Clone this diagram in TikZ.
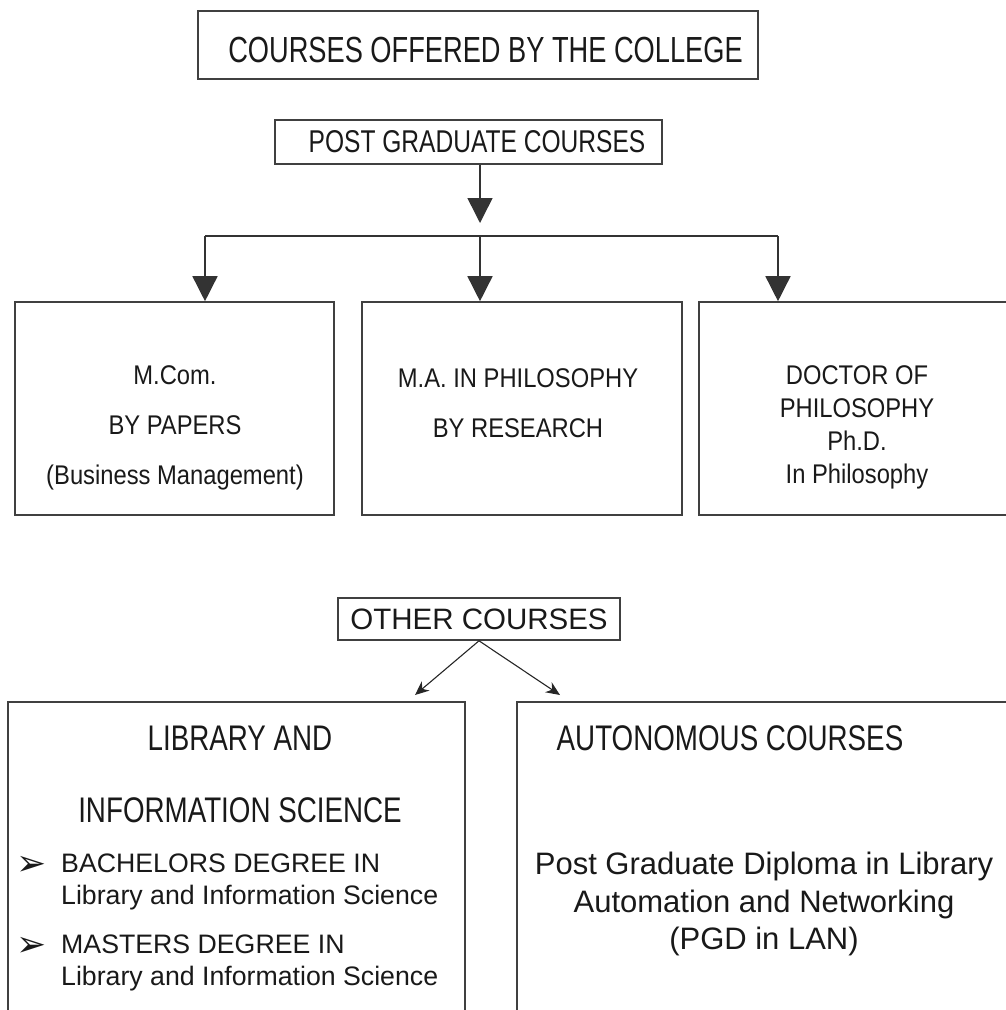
\documentclass[tikz,border=0pt]{standalone}
\usepackage{fontspec}
\setmainfont{Liberation Sans}
\newfontfamily\titlefont[FakeStretch=0.75]{Liberation Sans}
\newfontfamily\narrowfont[FakeStretch=0.78]{Liberation Sans}
\newfontfamily\rowfont[FakeStretch=0.88]{Liberation Sans}
\newfontfamily\bulletfont{DejaVu Sans}
\usetikzlibrary{arrows.meta}

\begin{document}
\begin{tikzpicture}[x=1pt,y=-1pt,
    box/.style={draw=black!75, line width=1.6pt, inner sep=0pt},
    stem/.style={draw=black!80, line width=1.5pt},
    bigarrow/.style={stem, -{Triangle[length=25pt,width=25pt]}},
    smallarrow/.style={draw=black!85, line width=1.1pt, -{Stealth[length=14pt,width=12pt]}},
    rowtext/.style={align=center, text=black!90, font=\rowfont\fontsize{27}{50}\selectfont},
    headtext/.style={align=center, text=black!90, font=\narrowfont\fontsize{35.6}{72}\selectfont},
    itemtext/.style={align=left, inner sep=0pt, text=black!90, font=\fontsize{26.7}{32}\selectfont},
    bullet/.style={inner sep=0pt, text=black!90, font=\bulletfont\fontsize{36}{36}\selectfont}]

    % page size
    \useasboundingbox (0,0) rectangle (1005,1010);

    % title and post graduate box
    \node[box, line width=2pt, minimum width=560pt, minimum height=68pt, text height=35pt,
          text=black!90, font=\titlefont\fontsize{36.3}{40}\selectfont]
          (title) at (478,45) {\hspace*{15pt}COURSES OFFERED BY THE COLLEGE};
    \node[box, minimum width=387pt, minimum height=44pt,
          text=black!90, font=\narrowfont\fontsize{31.5}{36}\selectfont]
          (pg) at (468.5,142) {\hspace*{17pt}POST GRADUATE COURSES};

    % the fork
    \coordinate (fork) at (480,236);
    \coordinate (forkL) at (205,236);
    \coordinate (forkR) at (778,236);
    \draw[bigarrow, shorten >=13pt] (pg.south -| fork) -- (fork);
    \draw[stem] (forkL) -- (forkR);

    % post graduate courses
    \node[box, minimum width=319pt, minimum height=213pt] (mcom) at (174.5,408.5) {};
    \node[box, minimum width=320pt, minimum height=213pt] (ma) at (522,408.5) {};
    \node[box, minimum width=311pt, minimum height=213pt] (phd) at (854.5,408.5) {};

    \draw[bigarrow] (forkL) -- (forkL |- mcom.north);
    \draw[bigarrow] (fork) -- (fork |- ma.north);
    \draw[bigarrow] (forkR) -- (forkR |- phd.north);

    \node[rowtext] (mcomtext) at (175,428) {M.Com.\\BY PAPERS\\(Business Management)};
    \node[rowtext] (matext) at (518,403) {M.A. IN PHILOSOPHY\\BY RESEARCH};
    \node[rowtext, font=\rowfont\fontsize{27}{33}\selectfont]
          (phdtext) at (857,427) {DOCTOR OF\\PHILOSOPHY\\Ph.D.\\In Philosophy};

    % other courses
    \node[box, minimum width=282pt, minimum height=42pt,
          text=black!90, font=\fontsize{29.5}{34}\selectfont]
          (other) at (479,619) {OTHER COURSES};

    \node[box, minimum width=457pt, minimum height=330pt] (lis) at (236.5,867) {};
    \node[box, minimum width=493pt, minimum height=330pt] (auto) at (763.5,867) {};

    \coordinate (lisend) at (415,695);
    \coordinate (autoend) at (560,695);
    \draw[smallarrow] (other.south) -- (lisend);
    \draw[smallarrow] (other.south) -- (autoend);

    % library and information science
    \node[headtext] (lishead) at (240,774) {LIBRARY AND\\INFORMATION SCIENCE};
    \node[bullet] (bul1) at (32,866) {➢};
    \node[bullet] (bul2) at (32,947) {➢};
    \node[itemtext, anchor=west] (bach) at (61,882)
          {BACHELORS DEGREE IN\\Library and Information Science};
    \node[itemtext, anchor=west] (mast) at (61,963)
          {MASTERS DEGREE IN\\Library and Information Science};

    % autonomous courses
    \node[headtext] (autohead) at (730,738) {AUTONOMOUS COURSES};
    \node[align=center, text=black!90, font=\fontsize{31}{37.5}\selectfont]
          (pgd) at (764,904) {Post Graduate Diploma in Library\\Automation and Networking\\(PGD in LAN)};
\end{tikzpicture}
\end{document}
